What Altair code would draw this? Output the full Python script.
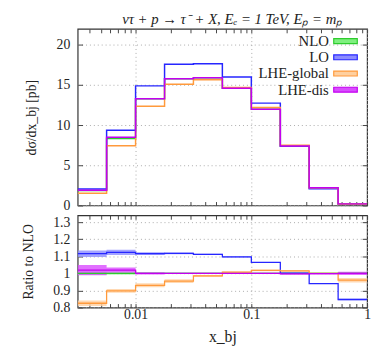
import altair as alt
import pandas as pd

# bin edges of x_bj (log-spaced, 4 per decade)
edges = [0.00316, 0.00562, 0.01, 0.0178, 0.0316, 0.0562, 0.1, 0.178, 0.316, 0.562, 1.0]

series = ["NLO", "LO", "LHE-global", "LHE-dis"]

# top panel: dsigma/dx_bj [pb]
top_nlo = [1.85, 8.35, 13.3, 15.8, 15.9, 14.6, 12.0, 7.4, 2.2, 0.2]
top_lo = [2.05, 9.37, 14.9, 17.6, 17.65, 16.0, 12.75, 7.42, 2.07, 0.17]
top_glob = [1.53, 7.45, 12.35, 15.1, 15.65, 14.7, 12.2, 7.5, 2.2, 0.19]
top_dis = [1.89, 8.5, 13.3, 15.8, 15.9, 14.6, 12.0, 7.4, 2.2, 0.2]

# bottom panel: ratio to NLO (centre, half width of band)
rat_nlo = [1.0, 1.0, 1.0, 1.0, 1.0, 1.0, 1.0, 1.0, 1.0, 1.0]
hw_nlo = [0.01, 0.007, 0.004, 0.003, 0.003, 0.003, 0.003, 0.003, 0.003, 0.004]
rat_lo = [1.115, 1.123, 1.115, 1.117, 1.111, 1.096, 1.064, 1.002, 0.94, 0.847]
hw_lo = [0.019, 0.015, 0.008, 0.005, 0.004, 0.003, 0.003, 0.003, 0.003, 0.004]
rat_glob = [0.825, 0.897, 0.93, 0.955, 0.985, 1.007, 1.017, 1.015, 1.0, 0.96]
hw_glob = [0.016, 0.011, 0.012, 0.011, 0.006, 0.004, 0.005, 0.005, 0.004, 0.013]
rat_dis = [1.019, 1.019, 1.0, 1.0, 1.0, 1.0, 1.0, 0.997, 0.998, 1.0]
hw_dis = [0.03, 0.015, 0.006, 0.004, 0.003, 0.003, 0.003, 0.003, 0.004, 0.009]

line_colors = ["#2ecc2e", "#2626ff", "#ff9a3c", "#c400f0"]
band_colors = ["#80f080", "#8c8cff", "#ffd0a0", "#d94cff"]

tops = [top_nlo, top_lo, top_glob, top_dis]
rats = [rat_nlo, rat_lo, rat_glob, rat_dis]
hws = [hw_nlo, hw_lo, hw_glob, hw_dis]

rows = []
for k, s in enumerate(series):
    for i, e in enumerate(edges):
        j = min(i, len(edges) - 2)
        rows.append({
            "series": s, "order": k, "x": e,
            "y": tops[k][j],
            "r": rats[k][j],
            "lo": rats[k][j] - hws[k][j],
            "hi": rats[k][j] + hws[k][j],
        })
df = pd.DataFrame(rows)

FONT = "Liberation Serif"
TXT = "#222222"
TICK = "#444444"

x_ticks = [0.004, 0.005, 0.006, 0.007, 0.008, 0.009,
           0.01, 0.02, 0.03, 0.04, 0.05, 0.06, 0.07, 0.08, 0.09,
           0.1, 0.2, 0.3, 0.4, 0.5, 0.6, 0.7, 0.8, 0.9, 1.0]
top_y_ticks = [0, 5, 10, 15, 20]
rat_y_ticks = [0.8, 0.9, 1.0, 1.1, 1.2, 1.3]
grid_cond = {"condition": {"test": "indexof([0.01, 0.1, 1], datum.value) >= 0", "value": 1}, "value": 0}

xscale = alt.Scale(type="log", domain=[edges[0], 1.0])
top_yscale = alt.Scale(domain=[0, 22], nice=False)
rat_yscale = alt.Scale(domain=[0.8, 1.34], nice=False)
color_scale = alt.Scale(domain=series, range=line_colors)
fill_scale = alt.Scale(domain=series, range=band_colors)


def x_axis(labels):
    kw = dict(values=x_ticks, tickCount=60, grid=True, gridOpacity=grid_cond, gridDash=[1, 3],
              gridColor="#aaaaaa", tickSize={"expr": "-4"}, tickColor=TICK,
              domain=False, labelFont=FONT, labelFontSize=14, labelColor=TXT,
              labelOverlap=False, labelFlush=False,
              titleFont=FONT, titleFontSize=16, titleFontWeight="normal", titleColor=TXT)
    if labels:
        kw.update(labels=True, title="x_bj", format="~g", labelPadding=4,
                  labelExpr="indexof(['0.01', '0.1', '1'], datum.label) >= 0 ? datum.label : ''",
                  titlePadding=8)
    else:
        kw.update(labels=False, title=None)
    return alt.Axis(**kw)


def x_axis_mirror():
    return alt.Axis(orient="top", values=x_ticks, tickCount=60, grid=False, labels=False,
                    title=None, domain=False, tickSize={"expr": "-4"}, tickColor=TICK)


def y_axis(title, values, fmt, pad):
    return alt.Axis(values=values, tickCount=30, format=fmt, grid=True, gridDash=[1, 3],
                    gridColor="#aaaaaa",
                    tickSize={"expr": "-5"}, tickColor=TICK, domain=False,
                    labelOverlap=False, labelFlush=False,
                    labelFont=FONT, labelFontSize=14, labelColor=TXT, labelPadding=13,
                    title=title, titleFont=FONT, titleFontSize=14, titleFontWeight="normal",
                    titleColor=TXT, titlePadding=pad)


def y_axis_mirror(values):
    return alt.Axis(orient="right", values=values, tickCount=30, grid=False, labels=False,
                    title=None, domain=False, tickSize={"expr": "-5"}, tickColor=TICK)


base = alt.Chart(df)

top_lines = base.mark_line(interpolate="step-after", strokeWidth=1.5, clip=True).encode(
    x=alt.X("x:Q", scale=xscale, axis=x_axis(False)),
    y=alt.Y("y:Q", scale=top_yscale,
            axis=y_axis("dσ/dx_bj [pb]", top_y_ticks, "d", 18)),
    color=alt.Color("series:N", scale=color_scale, legend=None),
    order=alt.Order("order:Q"),
)
top_mirror = base.mark_line(strokeOpacity=0).encode(
    x=alt.X("x:Q", scale=xscale, axis=x_axis_mirror()),
    y=alt.Y("y:Q", scale=top_yscale, axis=y_axis_mirror(top_y_ticks)),
    detail="series:N",
)

legend_layers = []
row_y = [12.5, 29, 45.5, 62]
for k, s in enumerate(series):
    ld = pd.DataFrame({"label": [s]})
    legend_layers.append(
        alt.Chart(ld).mark_text(align="right", baseline="middle", font=FONT, fontSize=15,
                                color=TXT).encode(
            x=alt.value(256), y=alt.value(row_y[k]), text="label:N"))
    legend_layers.append(
        alt.Chart(ld).mark_rect(fill=band_colors[k], stroke=line_colors[k], strokeWidth=1.2).encode(
            x=alt.value(261), x2=alt.value(285),
            y=alt.value(row_y[k] - 2.5), y2=alt.value(row_y[k] + 2.5)))

top = alt.layer(top_lines, top_mirror, *legend_layers).resolve_axis(
    x="independent", y="independent"
).properties(
    width=295, height=180,
    title=alt.Title("ντ + p → τ⁻ + X,  Eₑ = 1 TeV,  Eₚ = mₚ", font=FONT, fontSize=15,
                    fontWeight="normal", fontStyle="italic", color=TXT, offset=1, anchor="middle",
                    dx=10),
)

bands = base.mark_area(interpolate="step-after", opacity=0.8, clip=True).encode(
    x=alt.X("x:Q", scale=xscale, axis=x_axis(True)),
    y=alt.Y("lo:Q", scale=rat_yscale,
            axis=y_axis("Ratio to NLO", rat_y_ticks, "~g", 18)),
    y2="hi:Q",
    fill=alt.Fill("series:N", scale=fill_scale, legend=None),
    order=alt.Order("order:Q"),
)
rlines = base.mark_line(interpolate="step-after", strokeWidth=1.3, clip=True).encode(
    x=alt.X("x:Q", scale=xscale, axis=None),
    y=alt.Y("r:Q", scale=rat_yscale, axis=None),
    color=alt.Color("series:N", scale=color_scale, legend=None),
    order=alt.Order("order:Q"),
)
rat_mirror = base.mark_line(strokeOpacity=0).encode(
    x=alt.X("x:Q", scale=xscale, axis=x_axis_mirror()),
    y=alt.Y("r:Q", scale=rat_yscale, axis=y_axis_mirror(rat_y_ticks)),
    detail="series:N",
)
bottom = alt.layer(bands, rlines, rat_mirror).resolve_axis(
    x="independent", y="independent"
).properties(width=295, height=94)

chart = alt.vconcat(top, bottom, spacing=0).properties(
    padding={"left": 12, "top": 0, "right": 0, "bottom": 0}
).configure_view(stroke="#333333", strokeWidth=1.2)

chart.save("out.html", embed_options={"renderer": "svg", "actions": False})
